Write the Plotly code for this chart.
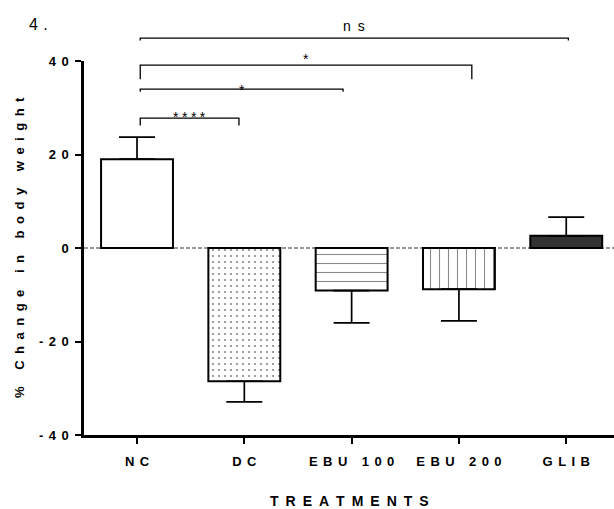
import plotly.graph_objects as go

# ---------------- data ----------------
categories = ["NC", "DC", "EBU 100", "EBU 200", "GLIB"]
mean_change = [19.0, -28.5, -9.1, -8.8, 2.6]
sem_change = [4.7, 4.4, 6.9, 6.8, 4.0]

y_ticks = [-40, -20, 0, 20, 40]

# significance brackets: (x_start, x_end, line_y, drop_left, drop_right, label)
bracket_x0 = [0.03, 0.03, 0.03, 0.03]
bracket_x1 = [0.95, 1.92, 3.12, 4.02]
bracket_y = [27.8, 34.0, 39.1, 44.9]
bracket_drop_l = [1.6, 0.6, 3.0, 0.5]
bracket_drop_r = [1.6, 0.6, 3.0, 0.5]
bracket_label = ["****", "*", "*", "ns"]
bracket_label_dy = [0.15, -0.1, 1.4, 2.6]

# ---------------- styling ----------------
FONT = "Liberation Sans, Arial, sans-serif"
XR = [-0.494, 4.445]
YR = [-40, 40]
GAP_S = "\u2004\u200a"   # letter spacing for tick labels
GAP_L = "\u2002"         # wider letter spacing for titles


def sp(s, gap=GAP_S):
    return gap.join(list(s))


def px(xd):
    return (xd - XR[0]) / (XR[1] - XR[0])


def py(yd):
    return (yd - YR[0]) / (YR[1] - YR[0])


fill_colors = ["white", "white", "white", "white", "#333333"]
pattern_shapes = ["", ".", "-", "|", ""]
pattern_sizes = [6, 6, 9, 9, 6]
pattern_solid = [0.1, 0.11, 0.12, 0.12, 0.1]

fig = go.Figure()
for i, cat in enumerate(categories):
    v = mean_change[i]
    e = sem_change[i]
    marker = dict(color=fill_colors[i], line=dict(color="black", width=2))
    if pattern_shapes[i]:
        marker["pattern"] = dict(shape=pattern_shapes[i], size=pattern_sizes[i],
                                 solidity=pattern_solid[i], fgcolor="#8a8a8a",
                                 bgcolor="white", fillmode="replace")
    fig.add_trace(go.Bar(
        x=[i], y=[v], width=0.67, name=cat,
        marker=marker,
        error_y=dict(type="data", symmetric=False,
                     array=[e if v >= 0 else 0], arrayminus=[e if v < 0 else 0],
                     color="black", thickness=1.7, width=18),
        showlegend=False,
    ))

shapes = []
# dashed zero line
shapes.append(dict(type="line", xref="paper", yref="y", x0=0, x1=1, y0=0, y1=0,
                   line=dict(color="#333333", width=1, dash="4px,2px"), layer="below"))

annotations = []
for x0, x1, yy, dl, dr, lab, dy in zip(bracket_x0, bracket_x1, bracket_y,
                                       bracket_drop_l, bracket_drop_r,
                                       bracket_label, bracket_label_dy):
    path = (f"M {px(x0)},{py(yy - dl)} L {px(x0)},{py(yy)} "
            f"L {px(x1)},{py(yy)} L {px(x1)},{py(yy - dr)}")
    shapes.append(dict(type="path", xref="paper", yref="paper", path=path,
                       line=dict(color="black", width=1.3)))
    annotations.append(dict(
        x=px((x0 + x1) / 2), y=py(yy + dy), xref="paper", yref="paper",
        text=sp(lab, GAP_L) if lab == "ns" else sp(lab, "\u2005"),
        showarrow=False, xanchor="center", yanchor="middle",
        font=dict(family=FONT, size=14, color="black"),
    ))

# axis titles and panel label
annotations.append(dict(
    x=0, y=0.5, xref="paper", yref="paper", xshift=-65, textangle=-90,
    text=sp("% Change in body weight", GAP_L), showarrow=False,
    xanchor="center", yanchor="middle",
    font=dict(family=FONT, size=13, color="black", weight="bold"),
))
annotations.append(dict(
    x=0.5, y=0, xref="paper", yref="paper", yshift=-66,
    text=sp("TREATMENTS", GAP_L), showarrow=False,
    xanchor="center", yanchor="middle",
    font=dict(family=FONT, size=14, color="black", weight="bold"),
))
annotations.append(dict(
    x=0, y=1, xref="paper", yref="paper", xshift=-57, yshift=37,
    text=sp("4.", "\u2004"), showarrow=False,
    xanchor="left", yanchor="middle",
    font=dict(family=FONT, size=16, color="black"),
))

fig.update_layout(
    width=614, height=509,
    margin=dict(l=84, r=0, t=61, b=74),
    paper_bgcolor="white", plot_bgcolor="white",
    barmode="overlay",
    shapes=shapes, annotations=annotations,
    xaxis=dict(
        range=XR, tickmode="array", tickvals=list(range(len(categories))),
        ticktext=[sp(c) for c in categories],
        showline=True, linecolor="black", linewidth=2.5,
        ticks="outside", ticklen=6, tickwidth=2, tickcolor="black",
        showgrid=False, zeroline=False, ticklabelstandoff=7,
        tickfont=dict(family=FONT, size=13, color="black", weight="bold"),
    ),
    yaxis=dict(
        range=YR, tickmode="array", tickvals=y_ticks,
        ticktext=[sp(str(t)) for t in y_ticks],
        showline=True, linecolor="black", linewidth=2.5,
        ticks="outside", ticklen=6, tickwidth=2, tickcolor="black",
        showgrid=False, zeroline=False, ticklabelstandoff=4,
        tickfont=dict(family=FONT, size=13, color="black", weight="bold"),
    ),
)

fig.write_html("out.html", config={"displayModeBar": False},
               post_script="document.body.style.margin='0';")
